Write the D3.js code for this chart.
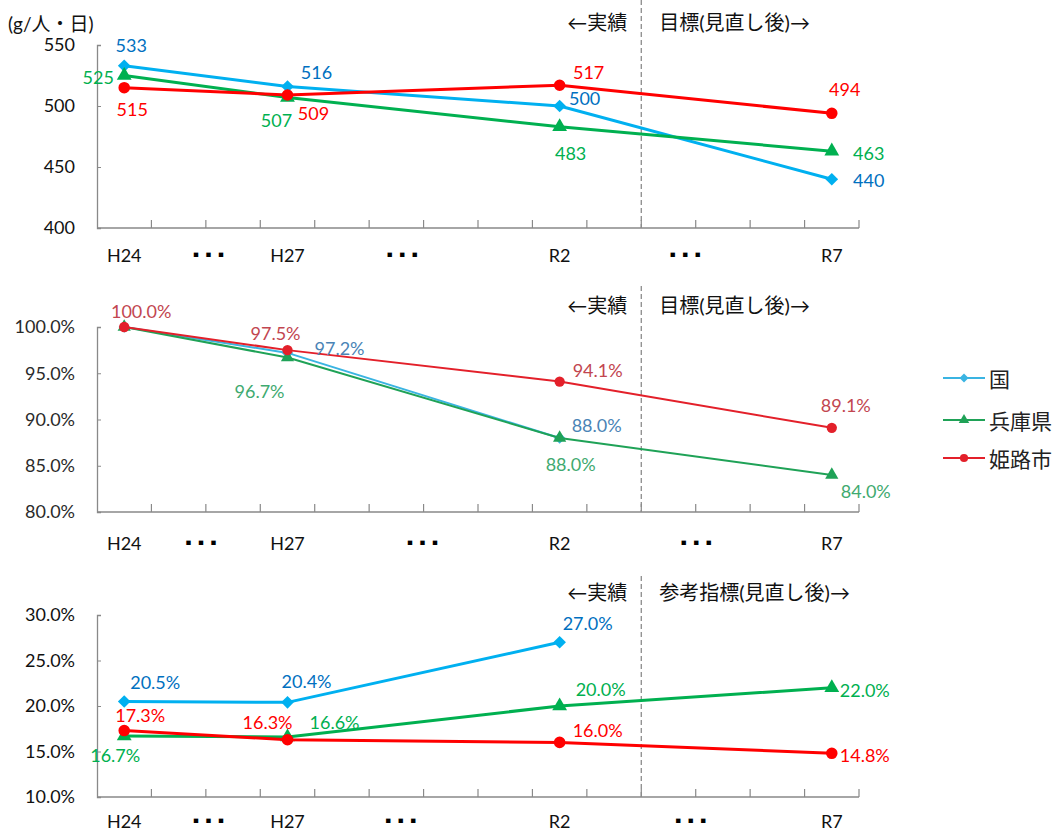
<!DOCTYPE html>
<html>
<head>
<meta charset="utf-8">
<script src="https://cdn.jsdelivr.net/npm/d3@7"></script>
<style>
  body { margin: 0; background: #fff; }
  text { font-family: Lato, "Noto Sans CJK JP", sans-serif; }
</style>
</head>
<body>
<div id="chart"></div>
<script>
// fiscal years on the x axis (14 slots, only some labelled)
var categories = ["H24", "H25", "H26", "H27", "H28", "H29", "H30", "R1", "R2", "R3", "R4", "R5", "R6", "R7"];
var years = ["H24", "H27", "R2", "R7"];
var seriesNames = ["国", "兵庫県", "姫路市"];

// panel 1 : g/人・日
var p1Kuni = [533, 516, 500, 440];
var p1Hyogo = [525, 507, 483, 463];
var p1Himeji = [515, 509, 517, 494];
var p1Ticks = [400, 450, 500, 550];

// panel 2 : index vs H24
var p2Kuni = [100.0, 97.2, 88.0, null];
var p2Hyogo = [100.0, 96.7, 88.0, 84.0];
var p2Himeji = [100.0, 97.5, 94.1, 89.1];
var p2Ticks = [80, 85, 90, 95, 100];

// panel 3 : rate
var p3Kuni = [20.5, 20.4, 27.0, null];
var p3Hyogo = [16.7, 16.6, 20.0, 22.0];
var p3Himeji = [17.3, 16.3, 16.0, 14.8];
var p3Ticks = [10, 15, 20, 25, 30];

var W = 1059, H = 834;
var svg = d3.select("#chart").append("svg").attr("width", W).attr("height", H);

var x = d3.scaleBand().domain(categories).range([97, 859]).padding(0);
var bw = x.bandwidth();
var splitX = x("R4"); // boundary 実績 / 目標

var pct = function (d) { return d3.format(".1f")(d) + "%"; };

// label offsets [dx, dy] from the point, null = no label
var panels = [
    {
        data: [p1Kuni, p1Hyogo, p1Himeji], ticks: p1Ticks, domain: [400, 550], range: [228, 45],
        fmt: function (d) { return d; }, tickFmt: function (d) { return d; },
        lineW: 3, pale: false, headY: 22, dashTop: 0, right: "目標(見直し後)→",
        dots: [2.04, 5.6, 10.8], labY: 255,
        offs: [
            [[7, -21], [29, -14], [25, -8], [37, 1]],
            [[-26, 1.5], [-11, 23], [11, 26], [37, 2]],
            [[8, 21], [26, 18], [29, -13], [13, -24]]
        ]
    },
    {
        data: [p2Kuni, p2Hyogo, p2Himeji], ticks: p2Ticks, domain: [80, 100], range: [512, 327],
        fmt: pct, tickFmt: pct,
        lineW: 2, pale: true, headY: 305, dashTop: 286, right: "目標(見直し後)→",
        dots: [1.9, 5.97, 11.0], labY: 543,
        offs: [
            [null, [52, -5], [37, -13], null],
            [null, [-28, 33], [11, 26], [34, 16]],
            [[17, -16], [-12, -17], [38, -12], [14, -23]]
        ]
    },
    {
        data: [p3Kuni, p3Hyogo, p3Himeji], ticks: p3Ticks, domain: [10, 30], range: [797, 615],
        fmt: pct, tickFmt: pct,
        lineW: 3, pale: false, headY: 592, dashTop: 576, right: "参考指標(見直し後)→",
        dots: [2.04, 5.57, 10.9], labY: 821,
        offs: [
            [[31, -19], [19, -21], [28, -19], null],
            [[-9, 19], [47, -15], [41, -17], [33, 2]],
            [[16, -16], [-20, -18], [38, -12], [33, 2]]
        ]
    }
];

var lineColors = ["#00B0F0", "#00B050", "#FF0000"];
var labelColors = ["#0070C0", "#00B050", "#FF0000"];
var paleLine = ["#3AB4E2", "#1FA257", "#E3202A"];
var paleLabel = ["#4A84B6", "#3FAA70", "#C24650"];

function markerPath(i, scale) {
    if (i === 0) return d3.symbol(d3.symbolSquare, 80 * scale)();
    if (i === 1) return d3.symbol(d3.symbolTriangle, 95 * scale)();
    return d3.symbol(d3.symbolCircle, 105 * scale)();
}

panels.forEach(function (p) {
    var y = d3.scaleLinear().domain(p.domain).range(p.range);
    var g = svg.append("g");
    var y0 = p.range[0];

    // y axis
    var ya = g.append("g").attr("transform", "translate(97,0)")
        .call(d3.axisLeft(y).tickValues(p.ticks).tickSize(-4).tickPadding(22).tickFormat(p.tickFmt));
    ya.select(".domain").attr("stroke", "#898989").attr("stroke-width", 1.3);
    ya.selectAll(".tick line").attr("stroke", "#898989");
    ya.selectAll(".tick text").attr("font-size", 18).attr("fill", p.pale ? "#2a2a2a" : "#111")
        .attr("font-family", "Lato, sans-serif");

    // x axis line + boundary ticks
    g.append("line").attr("x1", x.range()[0]).attr("x2", x.range()[1])
        .attr("y1", y0).attr("y2", y0).attr("stroke", "#898989").attr("stroke-width", 1.3);
    g.selectAll(".xt").data(categories.slice(1).concat(["end"])).enter().append("line")
        .attr("x1", function (c) { return c === "end" ? x.range()[1] : x(c); })
        .attr("x2", function (c) { return c === "end" ? x.range()[1] : x(c); })
        .attr("y1", y0).attr("y2", y0 - 8)
        .attr("stroke", "#898989").attr("stroke-width", 1.2);

    // x labels
    g.selectAll(".xl").data(years).enter().append("text")
        .attr("x", function (c) { return x(c) + bw / 2; })
        .attr("y", p.labY).attr("text-anchor", "middle").attr("dominant-baseline", "central")
        .attr("font-size", 18).attr("fill", "#111").text(function (c) { return c; });
    g.selectAll(".dots").data(p.dots).enter().append("text")
        .attr("x", function (u) { return x.range()[0] + bw * u; })
        .attr("dx", 4)
        .attr("y", p.labY).attr("text-anchor", "middle").attr("dominant-baseline", "central")
        .attr("font-size", 5.5).attr("letter-spacing", 7).attr("fill", "#000")
        .attr("font-family", "'Noto Sans CJK JP'").text("■■■");

    // divider + headers
    g.append("line").attr("x1", splitX).attr("x2", splitX)
        .attr("y1", p.dashTop).attr("y2", y0)
        .attr("stroke", "#8c8c8c").attr("stroke-width", 1.3).attr("stroke-dasharray", "5,3");
    g.append("text").attr("x", splitX - 14).attr("y", p.headY)
        .attr("text-anchor", "end").attr("dominant-baseline", "central")
        .attr("font-size", 20).attr("fill", "#111").text("←実績");
    g.append("text").attr("x", splitX + 18).attr("y", p.headY)
        .attr("dominant-baseline", "central")
        .attr("font-size", 20).attr("fill", "#111").text(p.right);

    var mScale = p.pale ? 0.8 : 1;

    p.data.forEach(function (vals, si) {
        var pts = years.map(function (c, k) { return { c: c, v: vals[k], k: k }; })
            .filter(function (d) { return d.v !== null; });
        var col = p.pale ? paleLine[si] : lineColors[si];
        var line = d3.line().x(function (d) { return x(d.c) + bw / 2; }).y(function (d) { return y(d.v); });
        g.append("path").datum(pts).attr("d", line).attr("fill", "none")
            .attr("stroke", col).attr("stroke-width", p.lineW).attr("stroke-linejoin", "round");
        g.selectAll(".m" + si).data(pts).enter().append("path")
            .attr("d", markerPath(si, mScale))
            .attr("transform", function (d) {
                return "translate(" + (x(d.c) + bw / 2) + "," + y(d.v) + ")" + (si === 0 ? " rotate(45)" : "");
            })
            .attr("fill", col);
    });

    // data labels on top
    p.data.forEach(function (vals, si) {
        var pts = years.map(function (c, k) { return { c: c, v: vals[k], o: p.offs[si][k] }; })
            .filter(function (d) { return d.v !== null && d.o; });
        g.selectAll(".l" + si).data(pts).enter().append("text")
            .attr("x", function (d) { return x(d.c) + bw / 2 + d.o[0]; })
            .attr("y", function (d) { return y(d.v) + d.o[1]; })
            .attr("text-anchor", "middle").attr("dominant-baseline", "central")
            .attr("font-size", 18)
            .attr("fill", p.pale ? paleLabel[si] : labelColors[si])
            .text(function (d) { return p.fmt(d.v); });
    });
});

// unit
svg.append("text").attr("x", 8).attr("y", 23).attr("dominant-baseline", "central")
    .attr("font-size", 19).attr("fill", "#111").text("(g/人・日)");

// legend
var leg = svg.append("g").attr("transform", "translate(943,378)");
seriesNames.forEach(function (n, i) {
    var ly = [0, 42, 80][i];
    var row = leg.append("g").attr("transform", "translate(0," + ly + ")");
    row.append("line").attr("x1", 0).attr("x2", 42).attr("y1", 0).attr("y2", 0)
        .attr("stroke", paleLine[i]).attr("stroke-width", 2);
    row.append("path").attr("d", markerPath(i, 0.5))
        .attr("transform", "translate(21,0)" + (i === 0 ? " rotate(45)" : ""))
        .attr("fill", paleLine[i]);
    row.append("text").attr("x", 46).attr("y", 0).attr("dominant-baseline", "central")
        .attr("font-size", 21).attr("fill", "#222").text(n);
});
</script>
</body>
</html>
